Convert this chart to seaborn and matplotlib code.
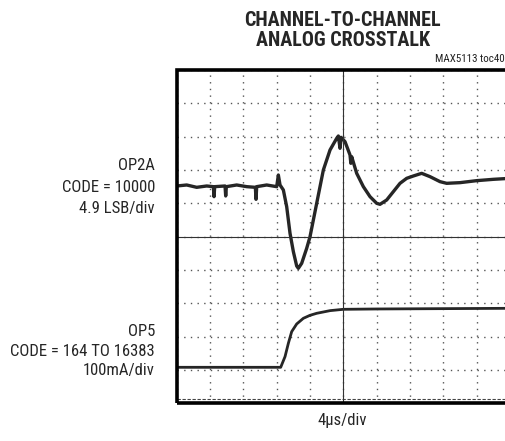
import numpy as np
import pandas as pd
import matplotlib.pyplot as plt
import seaborn as sns
from matplotlib.patches import Rectangle

# time axis in µs (4 µs/div), amplitude in screen divisions (0 = centre line)
op2a_t = [0.0, 1.2, 2.4, 3.6, 4.4, 4.48, 4.56, 5.8, 5.88, 5.96, 7.2, 8.4, 9.44, 9.52, 9.6,
          10.8, 12.0, 12.2, 12.4, 12.8, 13.2, 13.6, 14.0, 14.4, 14.6, 15.0, 15.6, 16.0,
          16.8, 17.6, 18.4, 19.2, 19.4, 19.6, 19.72, 20.2, 20.8, 20.9, 21.0, 21.6, 22.4,
          23.2, 24.0, 24.4, 25.2, 26.0, 26.8, 27.6, 28.4, 29.4, 30.4, 31.6, 32.4, 34.0,
          36.0, 38.0, 40.0]
op2a_v = [1.52, 1.55, 1.48, 1.52, 1.50, 1.20, 1.50, 1.52, 1.22, 1.50, 1.55, 1.50, 1.48,
          1.12, 1.50, 1.55, 1.50, 1.85, 1.55, 1.40, 0.90, 0.10, -0.45, -0.88, -0.95, -0.80,
          -0.35, 0.00, 1.00, 2.00, 2.60, 2.95, 3.02, 2.65, 2.98, 2.85, 2.45, 2.20, 2.40,
          1.90, 1.50, 1.20, 1.00, 0.97, 1.10, 1.35, 1.60, 1.75, 1.82, 1.90, 1.80, 1.65,
          1.60, 1.62, 1.68, 1.72, 1.75]

op5_t = [0.0, 12.48, 13.0, 13.4, 13.8, 14.4, 15.2, 16.0, 16.8, 18.4, 20.0, 24.0, 32.0, 40.0]
op5_v = [-3.92, -3.92, -3.60, -3.20, -2.85, -2.62, -2.45, -2.36, -2.30, -2.22, -2.18,
         -2.17, -2.16, -2.15]

title_lines = ["CHANNEL-TO-CHANNEL", "ANALOG CROSSTALK"]
op2a_label = ["OP2A", "CODE = 10000", "4.9 LSB/div"]
op5_label = ["OP5", "CODE = 164 TO 16383", "100mA/div"]
x_label = "4µs/div"
tag = "MAX5113 toc40"

sns.set_style("white")
plt.rcParams["font.family"] = ["Roboto Condensed", "Liberation Sans", "DejaVu Sans"]

W, H = 506, 441
fig = plt.figure(figsize=(W / 100, H / 100), dpi=100)
ax = fig.add_axes([176.7 / W, (H - 403.3) / H, 333.3 / W, 333.3 / H])

trace = pd.concat([
    pd.DataFrame({"t": op2a_t, "v": op2a_v, "ch": "OP2A"}),
    pd.DataFrame({"t": op5_t, "v": op5_v, "ch": "OP5"}),
])
sns.lineplot(data=trace[trace.ch == "OP2A"], x="t", y="v", ax=ax, color="#262626",
             lw=2.4, sort=False, estimator=None)
sns.lineplot(data=trace[trace.ch == "OP5"], x="t", y="v", ax=ax, color="#262626",
             lw=2.0, sort=False, estimator=None)

ax.set_xlim(0, 40)
ax.set_ylim(-5, 5)

# dotted graticule
ax.set_xticks(np.arange(0, 41, 4))
ax.set_yticks(np.arange(-5, 6, 1))
ax.grid(True, color="#555555", lw=1.0, linestyle=(0, (1, 3.8)))
ax.set_xticklabels([])
ax.set_yticklabels([])
ax.set_xlabel("")
ax.set_ylabel("")

# centre cross with fine ticks
for s in ["top", "right"]:
    ax.spines[s].set_visible(False)
ax.spines["left"].set_position(("data", 20))
ax.spines["bottom"].set_position(("data", 0))
for s in ["left", "bottom"]:
    ax.spines[s].set_linewidth(0.8)
    ax.spines[s].set_color("#333333")
ax.set_xticks(np.arange(0, 40.01, 0.8), minor=True)
ax.set_yticks(np.arange(-5, 5.01, 0.2), minor=True)
ax.tick_params(which="major", direction="inout", length=6, width=0.8, color="#333333")
ax.tick_params(which="minor", direction="inout", length=4, width=0.8, color="#333333")

# bottom edge marks and outer frame
ax.axhline(-4.88, color="#444444", lw=0.8, linestyle=(0, (3, 1.5)))
ax.add_patch(Rectangle((0, 0), 1, 1, transform=ax.transAxes, fill=False,
                       lw=2.6, edgecolor="black", clip_on=False, zorder=5))

# texts
for txt, y in zip(title_lines, [20, 40]):
    fig.text(342.7 / W, 1 - y / H, txt, ha="center", va="center",
             fontsize=14.5, fontweight="black")
fig.text(435 / W, 1 - 59 / H, tag, ha="left", va="center", fontsize=7.9, color="#222222")

for txt, y in zip(op2a_label, [166, 188, 208]):
    fig.text(155 / W, 1 - y / H, txt, ha="right", va="center", fontsize=12)
for txt, y in zip(op5_label, [332, 351, 370]):
    fig.text(155 / W, 1 - y / H, txt, ha="right", va="center", fontsize=12)

fig.text(342.7 / W, 1 - 420 / H, x_label, ha="center", va="center", fontsize=12)

fig.savefig("out.png", dpi=100)
